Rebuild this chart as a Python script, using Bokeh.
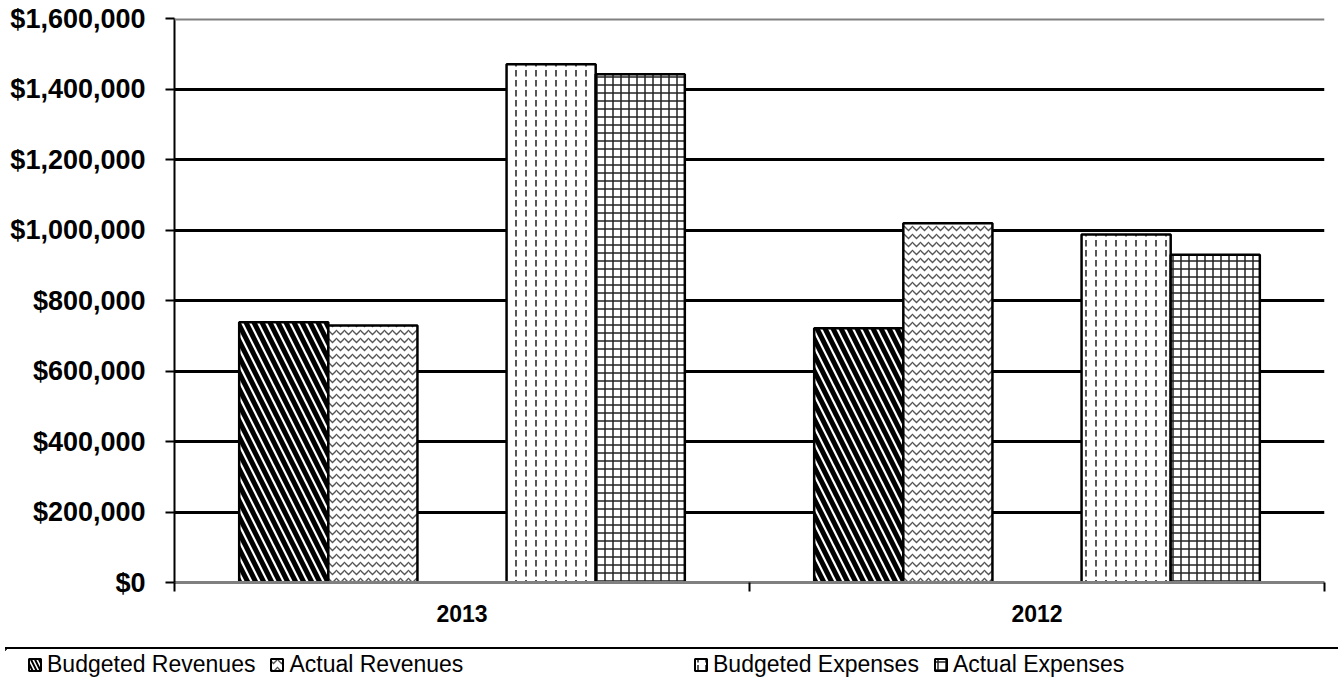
from bokeh.plotting import figure
from bokeh.models import (Range1d, ColumnDataSource, FixedTicker, NumeralTickFormatter, Span,
                          Legend, LegendItem, Div)
from bokeh.transform import dodge
from bokeh.layouts import column, row
from bokeh.embed import file_html
from bokeh.resources import INLINE

# ---- data ----
years = ["2013", "2012"]
budgeted_revenues = [738000, 721000]
actual_revenues = [729000, 1019000]
budgeted_expenses = [1470000, 987000]
actual_expenses = [1442000, 930000]
series_names = ["Budgeted Revenues", "Actual Revenues", "Budgeted Expenses", "Actual Expenses"]
y_ticks = [0, 200000, 400000, 600000, 800000, 1000000, 1200000, 1400000, 1600000]

FONT = "Liberation Sans"

# category centres on a numeric axis (one unit per category)
cat_centres = [i + 0.5 for i in range(len(years))]
cat_edges = list(range(len(years) + 1))

source = ColumnDataSource(data=dict(
    x=cat_centres,
    year=years,
    br=budgeted_revenues,
    ar=actual_revenues,
    be=budgeted_expenses,
    ae=actual_expenses,
))

styles = [
    dict(col="br", off=-0.31, hatch_pattern="left_diagonal_line", hatch_scale=16, hatch_weight=5, hatch_color="black"),
    dict(col="ar", off=-0.155, hatch_pattern="horizontal_wave", hatch_scale=8, hatch_weight=1.3, hatch_color="#555555"),
    dict(col="be", off=0.155, hatch_pattern="vertical_dash", hatch_scale=10, hatch_weight=1.8, hatch_color="#444444"),
    dict(col="ae", off=0.31, hatch_pattern="cross", hatch_scale=8, hatch_weight=1.5, hatch_color="#222222"),
]
BAR_W = 0.155

# ---- main chart ----
p = figure(width=1338, height=647, x_range=Range1d(0, len(years)), y_range=Range1d(0, 1600000),
           toolbar_location=None, output_backend="svg",
           min_border_left=174, min_border_right=14, min_border_top=18, min_border_bottom=65)
p.outline_line_color = None
p.background_fill_color = "white"
p.border_fill_color = "white"
p.xgrid.visible = False

xax = p.xaxis[0]
xax.ticker = FixedTicker(ticks=cat_centres, minor_ticks=cat_edges)
xax.major_label_overrides = {c: y for c, y in zip(cat_centres, years)}
xax.axis_line_color = "#808080"
xax.axis_line_width = 3
xax.major_tick_line_color = None
xax.major_tick_out = 0
xax.major_tick_in = 0
xax.minor_tick_line_color = "black"
xax.minor_tick_line_width = 2
xax.minor_tick_out = 9
xax.minor_tick_in = 0
xax.major_label_standoff = 13
xax.major_label_text_font = FONT
xax.major_label_text_font_style = "bold"
xax.major_label_text_font_size = "23px"
xax.major_label_text_color = "black"

yax = p.yaxis[0]
yax.ticker = FixedTicker(ticks=y_ticks)
yax.formatter = NumeralTickFormatter(format="$0,0")
yax.axis_line_color = "black"
yax.axis_line_width = 2
yax.major_tick_line_color = "black"
yax.major_tick_line_width = 2
yax.major_tick_out = 9
yax.major_tick_in = 0
yax.minor_tick_line_color = None
yax.major_label_standoff = 20
yax.major_label_text_font = FONT
yax.major_label_text_font_style = "bold"
yax.major_label_text_font_size = "27px"
yax.major_label_text_color = "black"

p.ygrid.ticker = FixedTicker(ticks=y_ticks)
p.ygrid.grid_line_color = "black"
p.ygrid.grid_line_width = 3
p.add_layout(Span(location=y_ticks[-1], dimension="width", line_color="#808080", line_width=4))

for st in styles:
    p.vbar(x=dodge("x", st["off"]), top=st["col"], width=BAR_W, source=source,
           fill_color="white", line_color="black", line_width=2.5,
           hatch_pattern=st["hatch_pattern"], hatch_scale=st["hatch_scale"],
           hatch_weight=st["hatch_weight"], hatch_color=st["hatch_color"])

# ---- separator line above the legend ----
rule = Div(text="", width=1333, height=2, margin=(0, 0, 0, 5),
           styles={"background-color": "black"})

# ---- legend strip (legend keys use the same series; their ranges keep the bars out of view) ----
p2 = figure(width=1338, height=40, x_range=Range1d(1000, 1001), y_range=Range1d(-2e7, -1e7),
            x_axis_location=None, y_axis_location=None, toolbar_location=None,
            output_backend="svg", min_border_left=5, min_border_right=0,
            min_border_top=0, min_border_bottom=0)
p2.outline_line_color = None
p2.xgrid.visible = False
p2.ygrid.visible = False

keys = []
for st in styles:
    r = p2.vbar(x=dodge("x", st["off"]), top=st["col"], width=BAR_W, source=source,
                fill_color="white", line_color="black", line_width=2,
                hatch_pattern=st["hatch_pattern"], hatch_scale=min(st["hatch_scale"], 8),
                hatch_weight=min(st["hatch_weight"], 2), hatch_color=st["hatch_color"])
    keys.append(r)

def make_legend(idx, loc):
    return Legend(items=[LegendItem(label=series_names[i], renderers=[keys[i]]) for i in idx],
                  location=loc, orientation="horizontal", glyph_width=15, glyph_height=15,
                  label_standoff=5, spacing=14, padding=0, margin=0,
                  border_line_color=None, background_fill_alpha=0,
                  label_text_font=FONT, label_text_font_size="23px", label_text_color="black")

p2.add_layout(make_legend([0, 1], (22, 11)))
p2.add_layout(make_legend([2, 3], (688, 11)))

layout = column(p, rule, row(p2))
open("out.html", "w").write(file_html(layout, INLINE))
